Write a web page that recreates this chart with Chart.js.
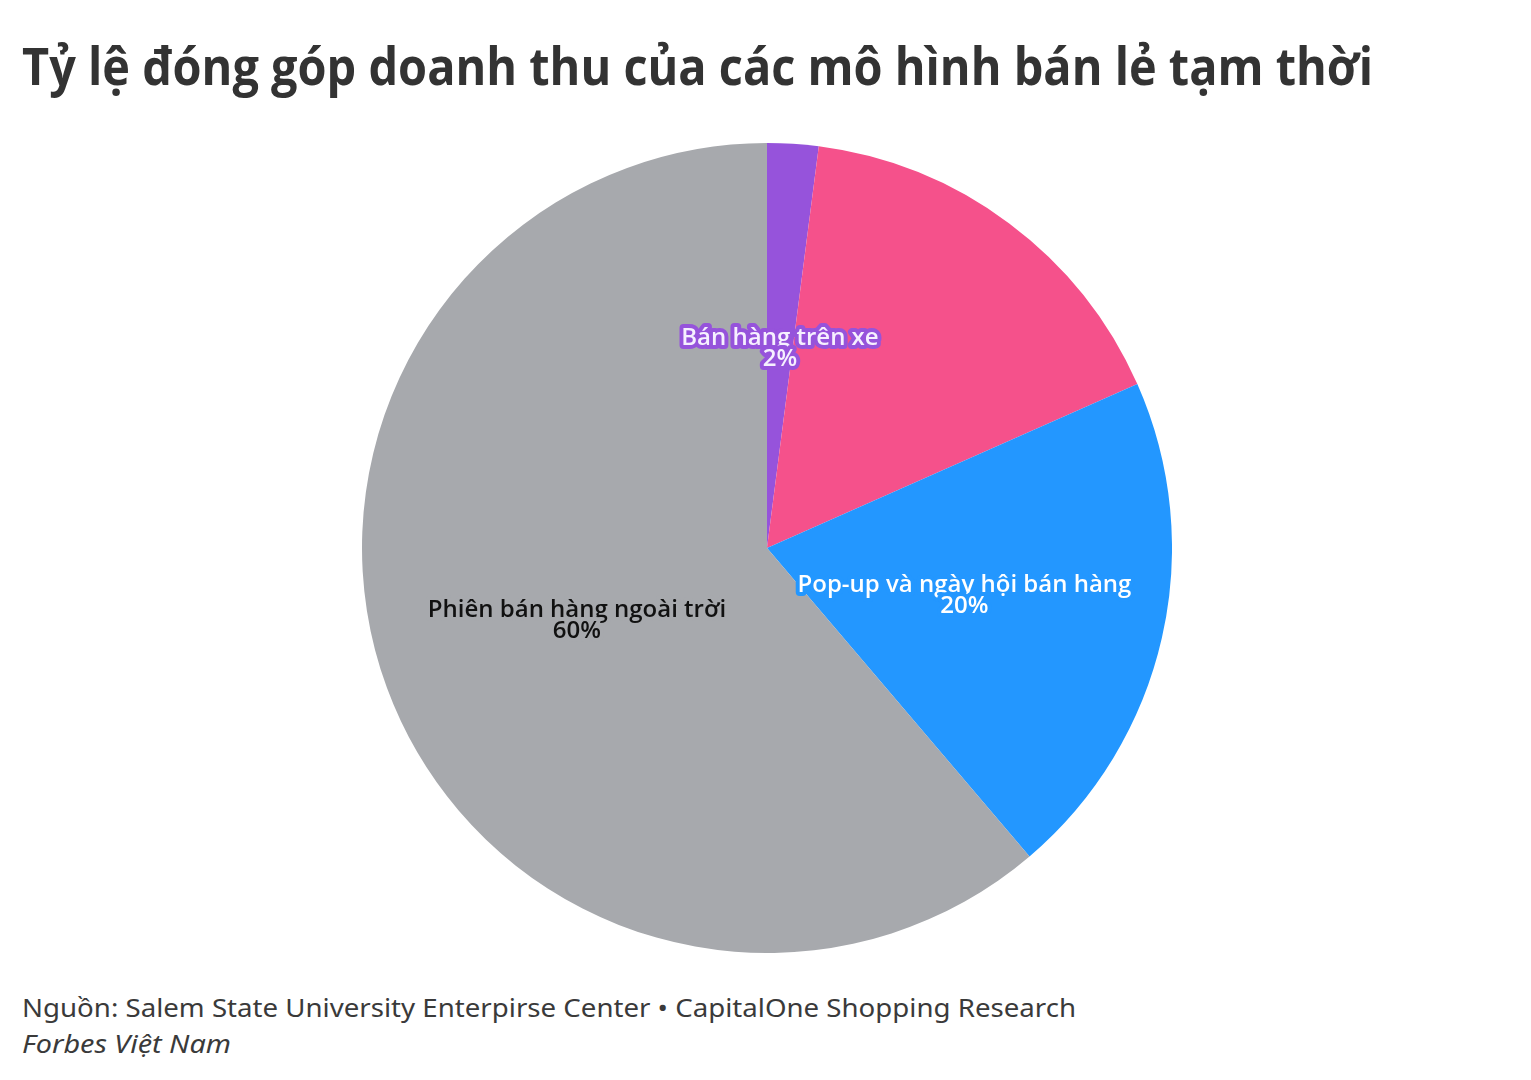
<!DOCTYPE html>
<html lang="vi">
<head>
<meta charset="utf-8">
<title>Tỷ lệ đóng góp doanh thu của các mô hình bán lẻ tạm thời</title>
<script src="https://cdn.jsdelivr.net/npm/chart.js@4"></script>
<style>
  html, body { margin: 0; padding: 0; background: #fff; }
  body { width: 1531px; height: 1080px; position: relative; overflow: hidden; }
  .title {
    position: absolute; left: 22px; top: 33px; margin: 0;
    font-family: "Open Sans", sans-serif; font-weight: 700; font-size: 52px;
    line-height: 64px; color: #333; white-space: nowrap;
    transform-origin: left center;
  }
  .chart-box { position: absolute; left: 362px; top: 143px; width: 810px; height: 810px; }
  .source, .brand {
    position: absolute; left: 22px; margin: 0; white-space: nowrap;
    font-family: "Noto Sans", sans-serif; font-size: 25px; color: #3a3a3a;
    transform-origin: left center;
  }
  .source { top: 990px; line-height: 34px; }
  .brand { top: 1026px; line-height: 34px; font-style: italic; }
</style>
</head>
<body>
<h1 class="title" id="title">Tỷ lệ đóng góp doanh thu của các mô hình bán lẻ tạm thời</h1>
<div class="chart-box"><canvas id="pie"></canvas></div>
<p class="source" id="source">Nguồn: Salem State University Enterpirse Center • CapitalOne Shopping Research</p>
<p class="brand" id="brand">Forbes Việt Nam</p>

<script>
// slice data, clockwise from 12 o'clock
const categories = ['Bán hàng trên xe', 'Khác', 'Pop-up và ngày hội bán hàng', 'Phiên bán hàng ngoài trời'];
const shares = [2, 16, 20, 60];
const sliceColors = ['#9653DB', '#F5518B', '#2397FF', '#A7A9AD'];
const showLabel = [true, false, true, true];
const labelFill = ['#F6F0FF', '#FFFFFF', '#FFFFFF', '#111111'];

// squeeze the headline and source lines to the widths in the original
function fitWidth(id, target) {
  const el = document.getElementById(id);
  const w = el.getBoundingClientRect().width;
  el.style.transform = 'scaleX(' + (target / w) + ')';
}
fitWidth('title', 1351);
fitWidth('source', 1054);
fitWidth('brand', 209);

// two-line label at the middle of each slice
const sliceLabels = {
  id: 'sliceLabels',
  afterDatasetsDraw(chart) {
    const ctx = chart.ctx;
    const arcs = chart.getDatasetMeta(0).data;
    ctx.save();
    ctx.textAlign = 'center';
    ctx.textBaseline = 'middle';
    ctx.lineJoin = 'round';
    ctx.font = '600 24px "Open Sans", sans-serif';
    arcs.forEach((arc, i) => {
      if (!showLabel[i]) return;
      const p = arc.getCenterPoint();
      const lines = [categories[i], shares[i] + '%'];
      lines.forEach((txt, k) => {
        const y = p.y - 8 + k * 21;
        ctx.lineWidth = 8;
        ctx.strokeStyle = sliceColors[i];
        ctx.strokeText(txt, p.x, y);
        ctx.fillStyle = labelFill[i];
        ctx.fillText(txt, p.x, y);
      });
    });
    ctx.restore();
  }
};

new Chart(document.getElementById('pie'), {
  type: 'pie',
  data: {
    labels: categories,
    datasets: [{
      data: shares,
      backgroundColor: sliceColors,
      borderWidth: 0,
      hoverOffset: 0
    }]
  },
  options: {
    responsive: true,
    maintainAspectRatio: false,
    animation: false,
    layout: { padding: 0 },
    plugins: {
      legend: { display: false },
      tooltip: { enabled: false }
    }
  },
  plugins: [sliceLabels]
});
</script>
</body>
</html>
